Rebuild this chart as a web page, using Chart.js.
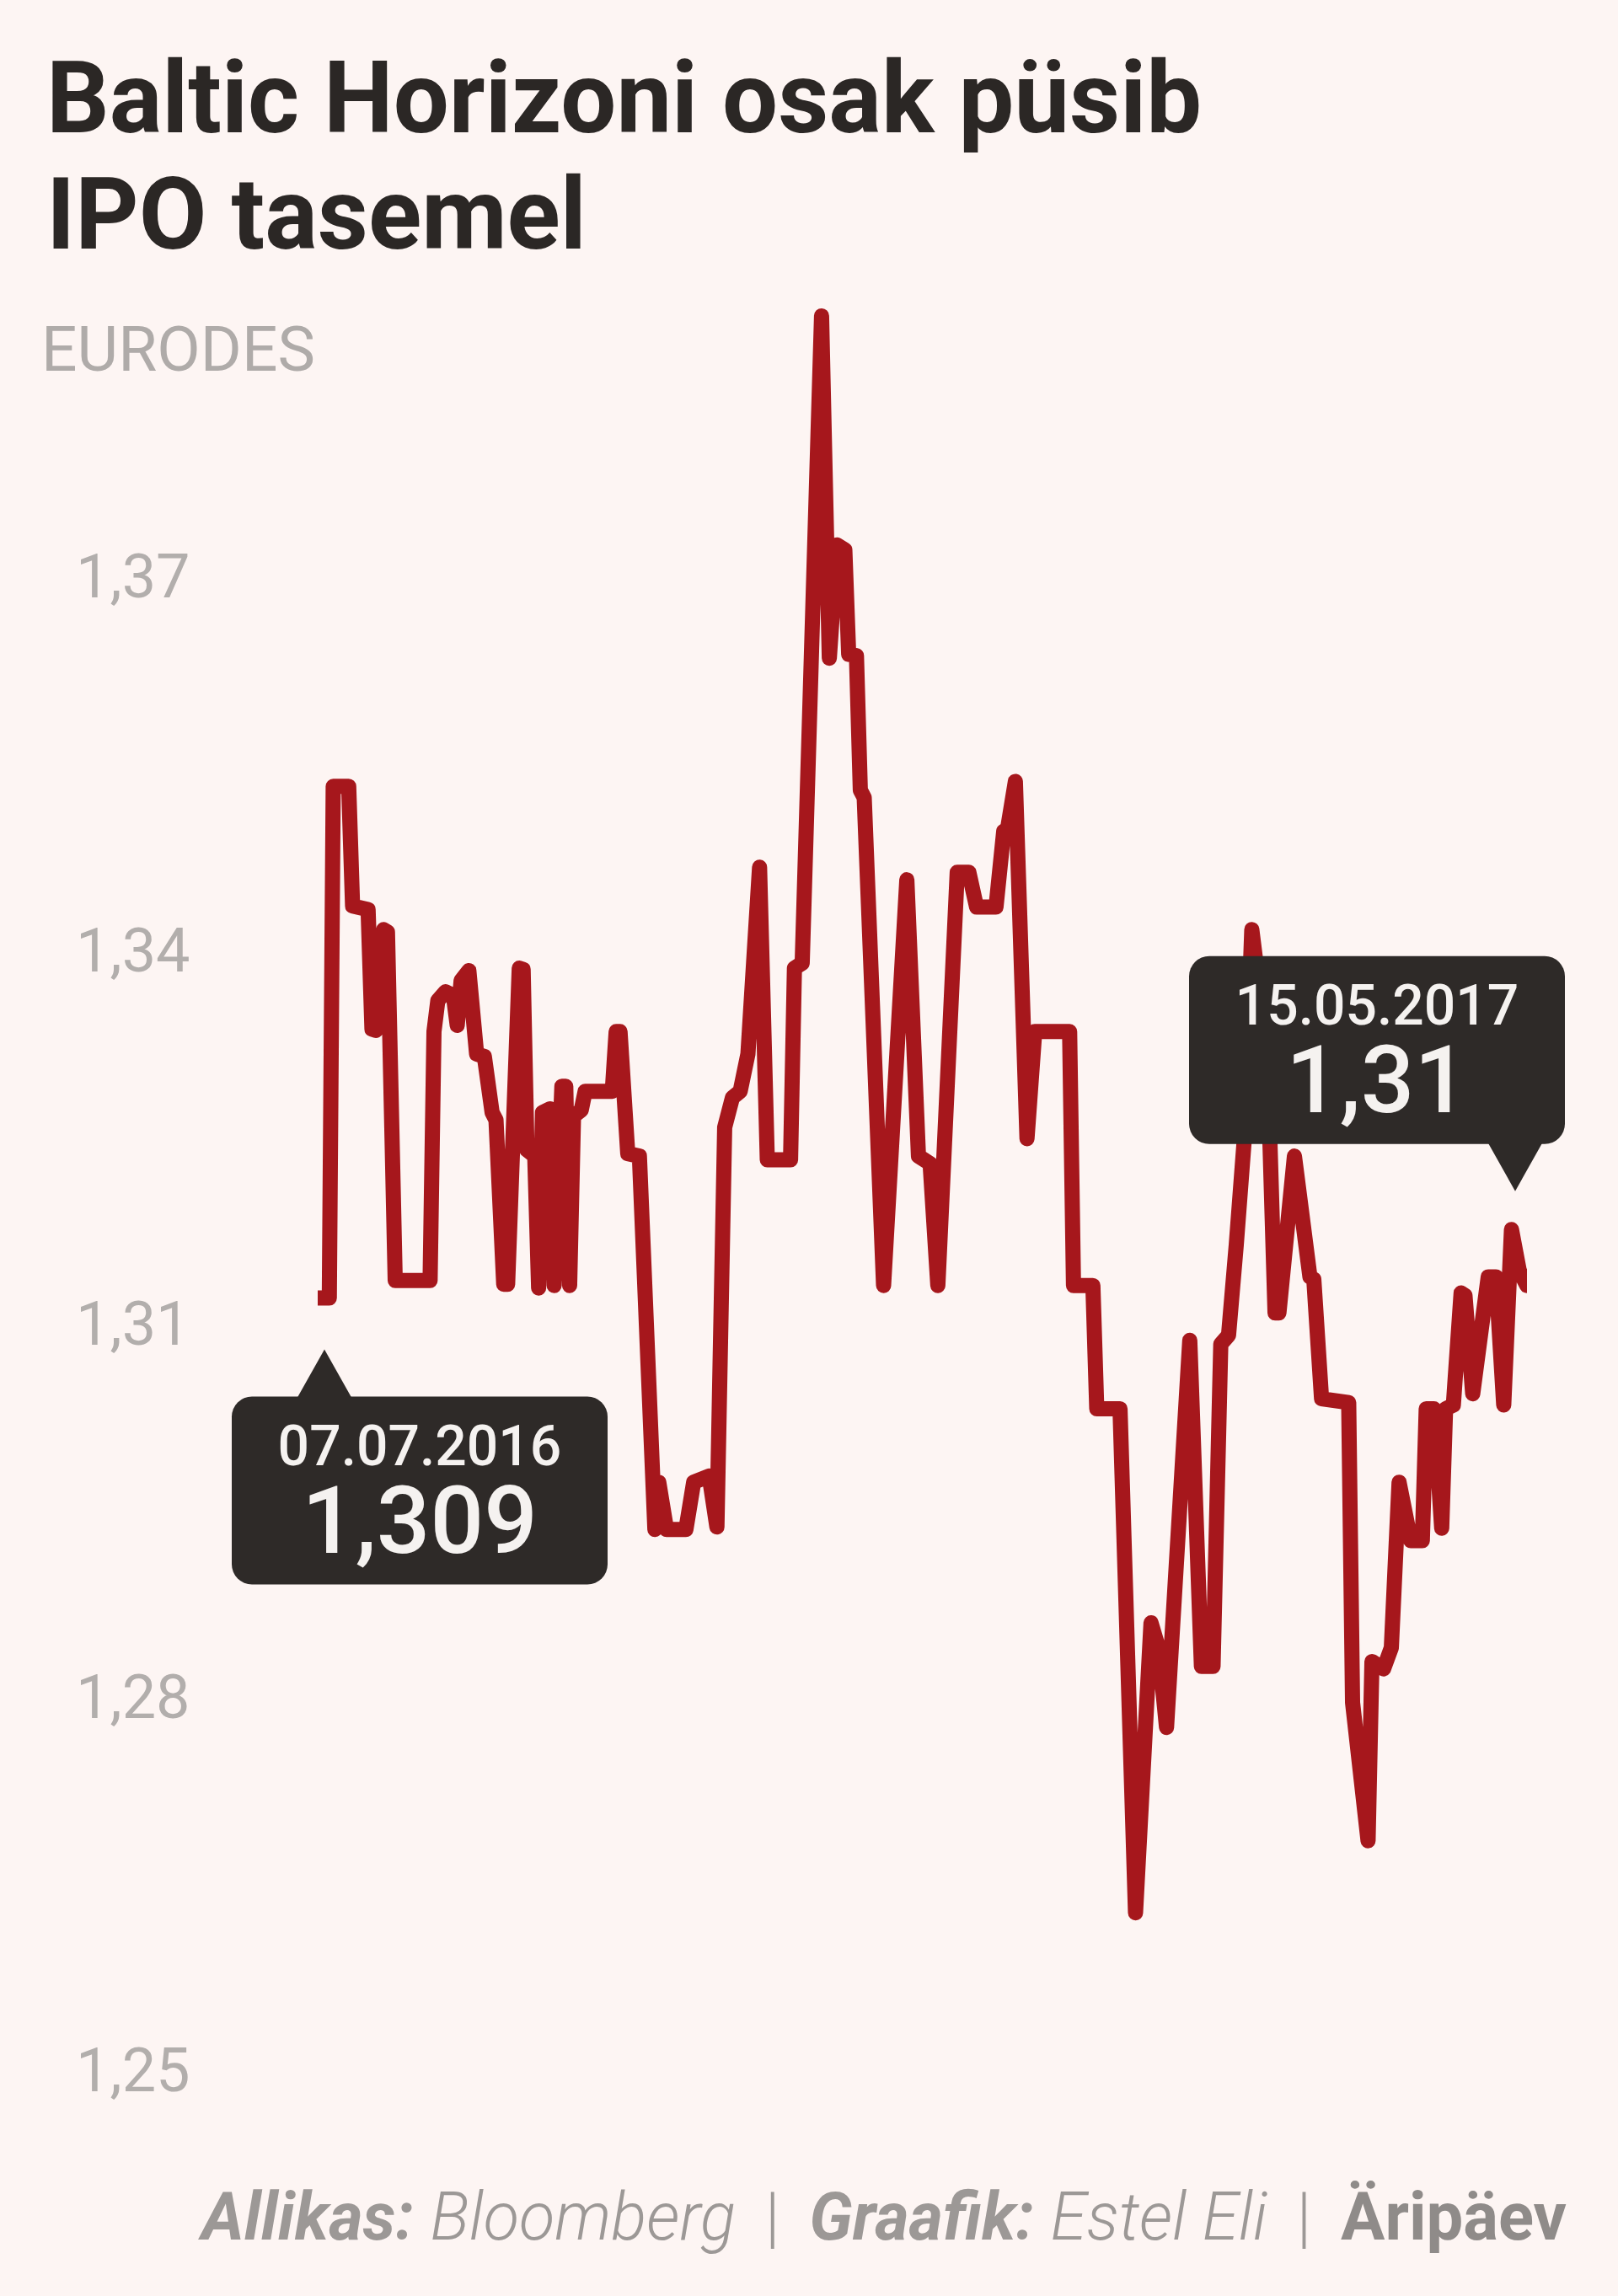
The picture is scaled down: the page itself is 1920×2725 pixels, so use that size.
<!DOCTYPE html>
<html lang="et">
<head>
<meta charset="UTF-8">
<title>Baltic Horizoni osak püsib IPO tasemel</title>
<script src="https://cdn.jsdelivr.net/npm/chart.js"></script>
<style>
  html, body { margin: 0; padding: 0; background: #fdf5f3; }
  body { width: 1920px; height: 2725px; position: relative; overflow: hidden; font-family: Roboto, "Noto Sans", sans-serif; }
  #chart { position: absolute; left: 0; top: 0; }
  .txt { position: absolute; white-space: nowrap; line-height: 1; }
  .title { left: 55px; font-size: 118px; font-weight: 700; color: #2b2725; transform-origin: 0 0; }
  #t1 { top: 58px; }
  #t2 { top: 196px; }
  #unit { left: 49px; top: 378px; font-size: 74px; font-weight: 400; color: #afaba9; transform-origin: 0 0; }
  #footer { right: 61px; top: 2591px; font-size: 80px; color: #9c9896; transform-origin: 100% 0; }
  #footer .b { font-weight: 700; font-style: italic; }
  #footer .l { font-weight: 300; font-style: italic; }
  #footer .sep { font-weight: 300; margin: 0 0.45em; }
  #footer .brand { font-weight: 700; color: #8f8b89; }
</style>
</head>
<body>
<canvas id="chart" width="1920" height="2725"></canvas>
<div class="txt title" id="t1">Baltic Horizoni osak püsib</div>
<div class="txt title" id="t2">IPO tasemel</div>
<div class="txt" id="unit">EURODES</div>
<div class="txt" id="footer"><span class="b">Allikas:</span> <span class="l">Bloomberg</span><span class="sep">|</span><span class="b">Graafik:</span> <span class="l">Estel Eli</span><span class="sep">|</span><span class="brand">Äripäev</span></div>
<script>
// days since 07.07.2016 and closing price (EUR)
const dayOffsets = [
  0, 3, 4, 8, 9, 13, 14, 15, 17, 18,
  20, 29, 30, 31, 33, 35, 36, 37, 39, 41,
  43, 45, 46, 48, 49, 52, 53, 54, 56, 57,
  58, 60, 61, 63, 64, 65, 66, 68, 69, 76,
  77, 78, 80, 83, 87, 88, 90, 95, 97, 101,
  103, 105, 107, 109, 111, 114, 116, 122, 123, 125,
  130, 132, 134, 136, 137, 139, 140, 141, 146, 152,
  155, 158, 160, 165, 168, 170, 175, 177, 178, 180,
  183, 185, 194, 195, 200, 201, 207, 211, 215, 217,
  219, 225, 228, 231, 233, 235, 237, 239, 241, 245,
  247, 248, 252, 256, 257, 259, 266, 267, 271, 272,
  275, 277, 279, 282, 285, 286, 288, 290, 291, 293,
  295, 296, 298, 302, 304, 306, 308, 310, 312
];
const prices = [
  1.309, 1.309, 1.3501, 1.3501, 1.3405, 1.3402, 1.3306, 1.3305, 1.3386, 1.3384,
  1.3104, 1.3104, 1.3304, 1.3329, 1.3336, 1.3333, 1.3309, 1.3345, 1.3353, 1.3286,
  1.3284, 1.3239, 1.3233, 1.3101, 1.3101, 1.3355, 1.3354, 1.3209, 1.3204, 1.3098,
  1.3239, 1.3242, 1.3100, 1.3260, 1.3260, 1.3100, 1.3236, 1.3241, 1.3256, 1.3256,
  1.3304, 1.3304, 1.3206, 1.3204, 1.2904, 1.2942, 1.2904, 1.2904, 1.2942, 1.2947,
  1.2906, 1.3227, 1.3251, 1.3256, 1.3286, 1.3436, 1.3201, 1.3201, 1.3355, 1.3359,
  1.3879, 1.3604, 1.3695, 1.3691, 1.3607, 1.3606, 1.3498, 1.3492, 1.3100, 1.3426,
  1.3204, 1.3198, 1.3100, 1.3432, 1.3432, 1.3404, 1.3404, 1.3465, 1.3467, 1.3505,
  1.3218, 1.3304, 1.3304, 1.3100, 1.3100, 1.3001, 1.3001, 1.2596, 1.2829, 1.2808,
  1.2745, 1.3056, 1.2794, 1.2794, 1.3053, 1.3060, 1.3133, 1.3215, 1.3386, 1.3286,
  1.3078, 1.3078, 1.3204, 1.3107, 1.3105, 1.3009, 1.3006, 1.2765, 1.2654, 1.2798,
  1.2792, 1.2809, 1.2942, 1.2895, 1.2895, 1.3001, 1.3001, 1.2905, 1.3001, 1.3004,
  1.3094, 1.3092, 1.3013, 1.3107, 1.3107, 1.3004, 1.3145, 1.3112, 1.31
];
const tickValues = [1.25, 1.28, 1.31, 1.34, 1.37];
const tickLabels = ['1,25', '1,28', '1,31', '1,34', '1,37'];
const firstDate = '07.07.2016';
const lastDate = '15.05.2017';

const points = dayOffsets.map((d, i) => ({ x: d, y: prices[i] }));
const fmt = v => String(v).replace('.', ',');

// dark callout boxes with a pointer towards the first and last point
const callouts = [
  { index: 0, date: firstDate, dx: 8, dy: 61, below: true, left: -110 },
  { index: points.length - 1, date: lastDate, dx: -14, dy: -112, below: false, left: -387 }
];

const calloutPlugin = {
  id: 'callouts',
  afterDatasetsDraw(chart) {
    const c = chart.ctx;
    const meta = chart.getDatasetMeta(0);
    const w = 446, h = 223, r = 24, pw = 32, ph = 56;
    callouts.forEach(co => {
      const pt = meta.data[co.index];
      const tx = pt.x + co.dx, ty = pt.y + co.dy;
      const bx = tx + co.left;
      const by = co.below ? ty + ph : ty - ph - h;
      c.save();
      c.fillStyle = '#2e2a28';
      c.beginPath();
      c.roundRect(bx, by, w, h, r);
      c.fill();
      c.beginPath();
      if (co.below) {
        c.moveTo(tx - pw, by + 1); c.lineTo(tx, ty); c.lineTo(tx + pw, by + 1);
      } else {
        c.moveTo(tx - pw, by + h - 1); c.lineTo(tx, ty); c.lineTo(tx + pw, by + h - 1);
      }
      c.closePath();
      c.fill();
      c.fillStyle = '#f5f2f0';
      c.textAlign = 'center';
      c.textBaseline = 'alphabetic';
      c.font = '500 66px Roboto';
      c.fillText(co.date, bx + w / 2, by + 81);
      c.font = '500 112px Roboto';
      c.fillText(fmt(prices[co.index]), bx + w / 2, by + 185);
      c.restore();
    });
  }
};

const ctx = document.getElementById('chart').getContext('2d');
new Chart(ctx, {
  type: 'line',
  data: {
    datasets: [{
      data: points,
      borderColor: '#a6171c',
      borderWidth: 18,
      borderJoinStyle: 'round',
      borderCapStyle: 'round',
      pointRadius: 0,
      tension: 0,
      fill: false
    }]
  },
  options: {
    responsive: false,
    animation: false,
    devicePixelRatio: 1,
    layout: { padding: { top: 270, bottom: 239, left: 90, right: 108 } },
    plugins: { legend: { display: false }, tooltip: { enabled: false }, title: { display: false } },
    scales: {
      x: { type: 'linear', min: 0, max: 312, display: false },
      y: {
        min: 1.245,
        max: 1.395,
        grid: { display: false },
        border: { display: false },
        afterBuildTicks: s => { s.ticks = tickValues.map(v => ({ value: v })); },
        afterFit: s => { s.width = 287; },
        ticks: {
          crossAlign: 'far',
          labelOffset: 52,
          color: '#b2aeac',
          font: { family: 'Roboto', size: 72, weight: '400' },
          callback: (v, i) => tickLabels[i]
        }
      }
    }
  },
  plugins: [calloutPlugin]
});

// squeeze the headline and footer to the reference widths
function fit(el, target) {
  const wd = el.getBoundingClientRect().width;
  const k = target / wd;
  el.style.transform = 'scaleX(' + k + ')';
  return k;
}
const k = fit(document.getElementById('t1'), 1371);
document.getElementById('t2').style.transform = 'scaleX(' + k + ')';
fit(document.getElementById('unit'), 325);
fit(document.getElementById('footer'), 1620);
</script>
</body>
</html>
